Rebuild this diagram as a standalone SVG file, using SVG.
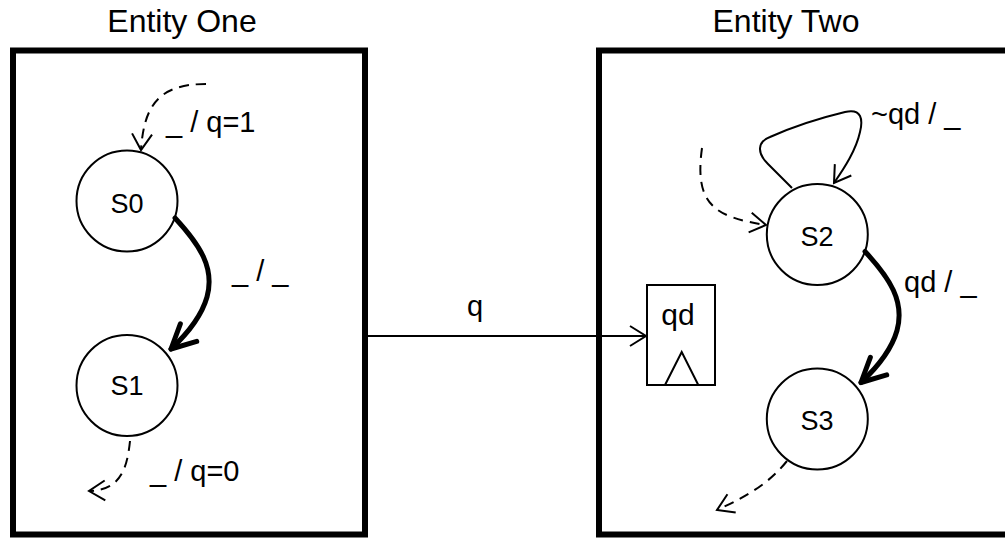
<svg xmlns="http://www.w3.org/2000/svg" width="1005" height="538" viewBox="0 0 1005 538">
  <style>
    text { font-family: "Liberation Sans", Arial, sans-serif; fill: #000; }
    .title { font-size: 32px; text-anchor: middle; }
    .state-label { font-size: 27px; text-anchor: middle; }
    .tlabel { font-size: 29px; }
    .entity { fill: none; stroke: #000; stroke-width: 6; }
    .state { fill: #fff; stroke: #000; stroke-width: 2; }
    .thin { fill: none; stroke: #000; stroke-width: 2; }
    .dashed { fill: none; stroke: #000; stroke-width: 2; stroke-dasharray: 10 7; }
    .thick { fill: none; stroke: #000; stroke-width: 5; stroke-linecap: round; }
  </style>
  <defs>
    <marker id="open" markerUnits="userSpaceOnUse" markerWidth="22" markerHeight="24" refX="17" refY="11" orient="auto" overflow="visible">
      <path d="M1,1 L17,11 L1,21" fill="none" stroke="#000" stroke-width="2"/>
    </marker>
    <marker id="open-thick" markerUnits="userSpaceOnUse" markerWidth="34" markerHeight="32" refX="27" refY="14" orient="auto" overflow="visible">
      <path d="M3,2 L27,14 L3,26" fill="none" stroke="#000" stroke-width="5" stroke-linecap="round" stroke-linejoin="round"/>
    </marker>
  </defs>

  <rect width="1005" height="538" fill="#fff"/>

  <!-- Entity One container -->
  <g id="entity-one">
    <text class="title" x="182" y="32">Entity One</text>
    <rect class="entity" x="13" y="50.5" width="352" height="484"/>
  </g>

  <!-- Entity Two container -->
  <g id="entity-two">
    <text class="title" x="786" y="32">Entity Two</text>
    <rect class="entity" x="599" y="50.5" width="500" height="484"/>
  </g>

  <!-- States -->
  <g id="s0">
    <circle class="state" cx="127" cy="201" r="50.5"/>
    <text class="state-label" x="127" y="212.5">S0</text>
  </g>
  <g id="s1">
    <circle class="state" cx="127" cy="385.5" r="50.5"/>
    <text class="state-label" x="127" y="395">S1</text>
  </g>
  <g id="s2">
    <circle class="state" cx="817.3" cy="234.5" r="50.5"/>
    <text class="state-label" x="817" y="246">S2</text>
  </g>
  <g id="s3">
    <circle class="state" cx="817.3" cy="419" r="50.5"/>
    <text class="state-label" x="817" y="429.5">S3</text>
  </g>

  <!-- Register qd -->
  <g id="qd">
    <rect x="647" y="285" width="68" height="100" fill="#fff" stroke="#000" stroke-width="2"/>
    <text x="678" y="325" font-size="30" text-anchor="middle">qd</text>
    <polyline points="665,385 681.7,352 698.3,385" fill="none" stroke="#000" stroke-width="2"/>
  </g>

  <!-- Connectors -->
  <g id="connectors">
    <!-- entry into S0 -->
    <path class="dashed" d="M206,84 C160,84 144,104 141,150" marker-end="url(#open)"/>
    <!-- S0 to S1 -->
    <path class="thick" d="M175,218 C200,245 215,268 207,297 C201,318 186,335 171,349" marker-end="url(#open-thick)"/>
    <!-- exit from S1 -->
    <path class="dashed" d="M130,441 C127,470 120,490 89,491" marker-end="url(#open)"/>
    <!-- signal q -->
    <path class="thin" d="M365,336 L646,336" marker-end="url(#open)"/>
    <!-- entry into S2 -->
    <path class="dashed" d="M702,148 C694,205 715,217 766,225" marker-end="url(#open)"/>
    <!-- S2 self loop -->
    <path class="thin" d="M792,188 L768,164 C757,153 757,142 770,137 C790,128 820,118 845,112 C862,108 863,120 860,132 C856,150 845,167 834,183" marker-end="url(#open)"/>
    <!-- S2 to S3 -->
    <path class="thick" d="M865,251.5 C890,278.5 905,301.5 897,330.5 C891,351.5 876,368.5 861,382.5" marker-end="url(#open-thick)"/>
    <!-- exit from S3 -->
    <path class="dashed" d="M787,461 C770,482 750,495 717,510" marker-end="url(#open)"/>
  </g>

  <!-- Transition labels -->
  <g id="labels">
    <text class="tlabel" x="166" y="132">_ / q=1</text>
    <text class="tlabel" x="232" y="281">_ / _</text>
    <text class="tlabel" x="150" y="481">_ / q=0</text>
    <text class="tlabel" x="475" y="316" text-anchor="middle">q</text>
    <text class="tlabel" x="871" y="124">~qd / _</text>
    <text class="tlabel" x="904" y="292">qd / _</text>
  </g>
</svg>
